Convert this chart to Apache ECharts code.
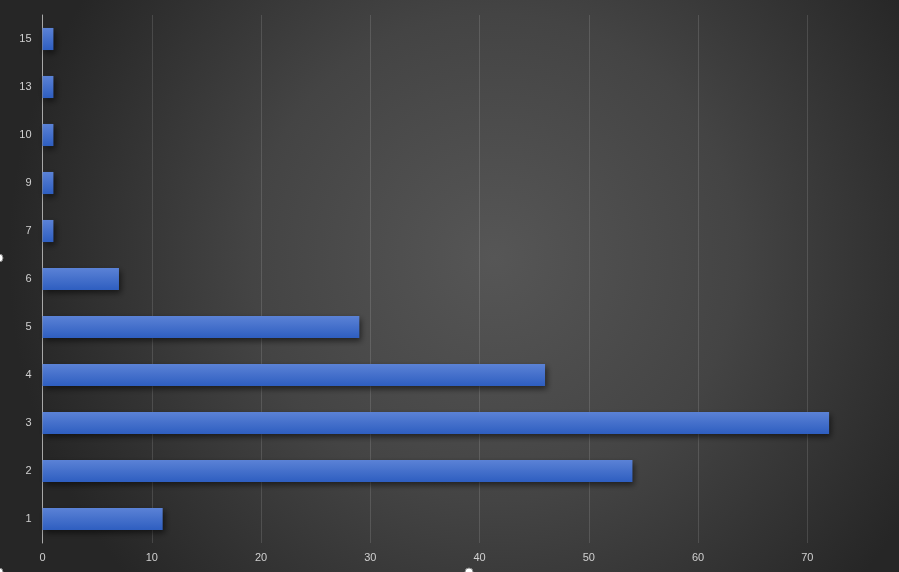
<!DOCTYPE html>
<html><head><meta charset="utf-8">
<script src="https://cdn.jsdelivr.net/npm/echarts@6/dist/echarts.min.js"></script>
<style>html,body{margin:0;padding:0;overflow:hidden;background:#333}#c{width:899px;height:572px}</style>
</head><body><div id="c"></div>
<script>
const categories = ['1','2','3','4','5','6','7','9','10','13','15'];
const values = [11, 54, 72, 46, 29, 7, 1, 1, 1, 1, 1];
const xTicks = [0, 10, 20, 30, 40, 50, 60, 70, 80];

const chart = echarts.init(document.getElementById('c'));
chart.setOption({
  animation: false,
  backgroundColor: {
    type: 'radial', x: 0.55, y: 0.45, r: 0.85,
    colorStops: [{offset: 0, color: '#565656'}, {offset: 0.5, color: '#444444'}, {offset: 1, color: '#262626'}]
  },
  grid: {left: 42.5, top: 15, width: 874, height: 528, containLabel: false, outerBoundsMode: 'none'},
  xAxis: {
    type: 'value', min: xTicks[0], max: xTicks[xTicks.length-1], interval: 10,
    axisLine: {show: false}, axisTick: {show: false},
    splitLine: {lineStyle: {color: 'rgba(255,255,255,0.13)', width: 1}},
    axisLabel: {color: '#d0d0d0', fontSize: 11, fontFamily: 'Liberation Sans', margin: 9}
  },
  yAxis: {
    type: 'category', data: categories,
    axisLine: {lineStyle: {color: '#a8a8a8', width: 1}},
    axisTick: {show: false},
    axisLabel: {color: '#d0d0d0', fontSize: 11, fontFamily: 'Liberation Sans', margin: 11}
  },
  series: [{
    type: 'bar', data: values, barWidth: '46%',
    itemStyle: {
      color: {type: 'linear', x: 0, y: 0, x2: 0, y2: 1,
        colorStops: [{offset: 0, color: '#5b82d6'}, {offset: 1, color: '#2e5ec0'}]},
      shadowColor: 'rgba(0,0,0,0.55)', shadowBlur: 6, shadowOffsetX: 2, shadowOffsetY: 3
    }
  }],
  graphic: [
    {type: 'circle', shape: {cx: -1, cy: 258, r: 4}, style: {fill: '#ffffff', stroke: '#888', lineWidth: 1}},
    {type: 'circle', shape: {cx: -1, cy: 572, r: 4}, style: {fill: '#ffffff', stroke: '#888', lineWidth: 1}},
    {type: 'circle', shape: {cx: 469, cy: 572, r: 4}, style: {fill: '#ffffff', stroke: '#888', lineWidth: 1}}
  ]
});
</script></body></html>
